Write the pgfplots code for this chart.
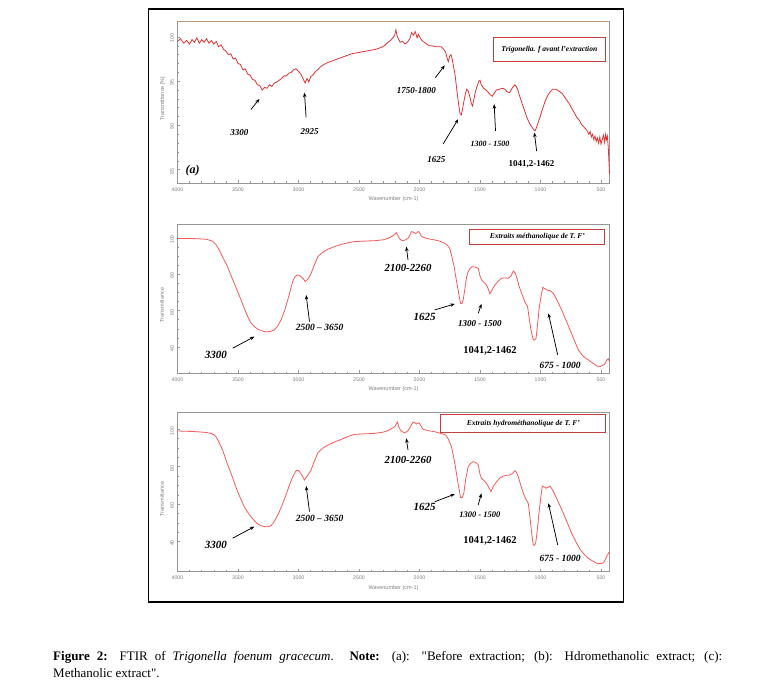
\documentclass[border=0pt]{standalone}
\usepackage{fontspec}
\setmainfont{Liberation Serif}[Ligatures=TeXOff]
\setsansfont{Liberation Sans}
\usepackage{pgfplots}
\pgfplotsset{compat=1.18}
\usetikzlibrary{arrows.meta}

\definecolor{curvea}{RGB}{226,50,50}
\definecolor{curveb}{RGB}{250,88,88}
\definecolor{axgray}{RGB}{150,150,150}
\definecolor{boxred}{RGB}{196,62,62}
\definecolor{topbrown}{RGB}{190,150,120}

\pgfplotsset{
  ftir/.style={
    scale only axis, width=432pt, anchor=south west,
    xmin=430, xmax=4000, x dir=reverse,
    xtick={500,1000,...,4000}, minor x tick num=4,
    tick pos=left, tick align=inside,
    major tick length=3pt, minor tick length=1.6pt,
    axis line style={axgray, line width=0.6pt},
    every tick/.style={axgray, line width=0.5pt},
    /pgf/number format/1000 sep={},
    /pgf/number format/assume math mode=true,
    ticklabel style={font=\sffamily\fontsize{5.2}{6}\selectfont, text=gray},
    yticklabel style={rotate=90, anchor=south, xshift=-1.5pt},
    xticklabel style={yshift=-1pt},
    xlabel={Wavenumber (cm-1)},
    xlabel style={font=\sffamily\fontsize{5.5}{6.5}\selectfont, text=gray,
      at={(axis description cs:0.5,0)}, anchor=north, yshift=-10pt},
    ylabel style={font=\sffamily\fontsize{5.5}{6.5}\selectfont, text=gray},
    clip=false,
  },
}
\tikzset{
  ann/.style={font=\bfseries\itshape\fontsize{#1}{#1}\selectfont, inner sep=0pt},
  ann/.default=9,
  annup/.style={font=\bfseries\fontsize{#1}{#1}\selectfont, inner sep=0pt},
  annup/.default=10.5,
  arr/.style={-{Stealth[length=4.5pt,width=3.5pt]}, line width=0.75pt},
  lbl/.style={draw=boxred, line width=0.8pt, fill=white, inner sep=0pt,
    font=\bfseries\itshape\fontsize{7.5}{8}\selectfont},
}

\pgfplotstableread{
x y
4000 99.5
3975 99.8
3950 99.3
3925 99.6
3900 99.2
3880 99.7
3860 99.4
3840 99.9
3820 99.3
3800 99.7
3780 99.4
3760 99.8
3740 99.3
3720 99.6
3700 99.2
3680 99.5
3660 98.9
3640 99.1
3620 98.6
3600 98.4
3580 98.0
3560 98.1
3540 97.5
3520 97.6
3500 97.0
3480 96.9
3460 96.3
3440 96.4
3420 95.8
3400 95.7
3380 95.2
3360 95.1
3340 94.6
3320 94.5
3300 94.0
3280 94.3
3260 94.2
3240 94.6
3220 94.4
3200 94.8
3180 94.9
3160 95.1
3140 95.3
3120 95.6
3100 95.6
3080 95.9
3060 96.0
3040 96.3
3020 96.4
3000 96.1
2980 95.8
2960 95.2
2945 94.8
2930 95.3
2915 94.9
2900 95.5
2880 95.7
2860 96.1
2840 96.3
2820 96.6
2800 96.8
2760 97.1
2720 97.3
2680 97.5
2640 97.7
2600 97.9
2560 98.1
2520 98.2
2480 98.3
2440 98.4
2400 98.5
2360 98.6
2320 98.8
2290 99.0
2260 99.4
2240 99.6
2220 99.9
2205 100.2
2195 100.8
2185 100.1
2175 99.8
2160 99.4
2140 99.5
2120 99.2
2100 99.4
2080 99.8
2065 100.5
2050 100.2
2035 100.6
2020 99.9
2010 100.3
1995 99.9
1980 99.6
1960 99.4
1940 99.2
1920 99.0
1900 99.0
1860 98.9
1820 98.9
1800 98.6
1785 98.3
1770 97.5
1762 97.2
1752 97.8
1740 98.0
1730 97.5
1718 96.6
1705 95.6
1690 93.8
1678 92.5
1665 91.3
1655 91.2
1645 91.8
1635 92.6
1620 93.6
1610 94.1
1598 93.9
1585 93.3
1572 92.5
1562 92.2
1550 93.0
1538 93.8
1525 94.4
1510 95.0
1500 95.1
1490 94.6
1470 94.2
1450 94.0
1430 93.7
1410 93.4
1398 93.3
1385 93.6
1365 94.0
1340 94.1
1315 94.2
1295 94.1
1275 93.8
1255 93.7
1240 94.1
1225 94.4
1212 94.6
1200 94.4
1185 93.9
1170 93.2
1150 92.4
1130 91.6
1110 90.8
1090 90.2
1070 89.8
1055 89.5
1045 89.4
1035 89.7
1020 90.3
1005 90.9
990 91.6
975 92.2
960 92.8
940 93.4
920 93.8
900 94.1
880 94.1
860 94.0
840 93.8
820 93.6
800 93.2
780 92.8
760 92.4
740 91.9
720 91.4
700 90.9
680 90.6
660 90.1
640 89.8
620 89.5
600 89.0
590 89.3
580 88.7
570 89.0
560 88.4
550 88.8
540 88.2
530 88.6
520 88.0
510 88.7
500 87.9
490 88.4
480 88.9
470 88.1
462 89.0
455 88.4
448 88.8
440 87.5
435 86.0
430 84.5
}\before

\pgfplotstableread{
x y
4000 99.8
3900 99.7
3834 99.6
3760 99.3
3710 98.2
3680 96.2
3655 93.4
3620 88.6
3586 84.2
3560 79.7
3531 75.1
3500 70.0
3475 65.9
3448 61.3
3420 56.7
3393 53.3
3365 51.2
3337 49.8
3310 49.0
3282 48.5
3255 48.3
3227 48.7
3199 49.4
3172 51.5
3144 54.9
3115 60.0
3089 65.9
3068 71.0
3048 76.0
3030 78.6
3012 79.6
2995 79.4
2978 78.7
2960 77.5
2945 76.0
2925 77.2
2910 78.6
2896 80.5
2870 85.0
2840 89.7
2800 92.2
2758 93.8
2700 95.3
2647 96.5
2590 97.4
2537 98.0
2450 98.3
2371 98.5
2300 99.0
2261 99.8
2225 101.0
2205 102.1
2192 102.9
2180 101.5
2165 99.6
2150 98.8
2136 98.5
2115 99.0
2095 99.8
2080 101.5
2067 103.5
2050 103.2
2035 102.5
2026 102.6
2015 103.4
2007 103.5
1995 102.4
1985 101.2
1971 100.4
1930 99.6
1874 98.9
1830 98.2
1791 97.1
1770 96.0
1750 94.3
1732 89.5
1714 84.2
1700 78.5
1686 73.2
1673 68.2
1661 64.0
1650 63.8
1639 65.9
1625 72.0
1612 78.0
1603 80.5
1585 83.0
1565 84.2
1540 84.0
1515 83.3
1500 79.0
1487 76.9
1466 75.5
1446 74.1
1430 71.5
1418 69.2
1400 71.5
1377 74.1
1350 76.2
1322 77.8
1295 78.0
1267 77.8
1245 79.0
1225 81.8
1210 80.8
1198 78.7
1180 74.0
1156 69.5
1130 65.0
1107 62.2
1095 56.5
1079 49.4
1068 46.0
1060 43.9
1048 43.9
1037 44.8
1025 52.0
1013 60.4
997 67.5
982 72.8
965 72.2
949 71.4
920 71.0
894 69.5
860 65.2
825 60.4
790 54.8
756 49.4
720 43.5
687 38.3
650 35.0
604 32.8
570 31.2
535 29.5
505 29.2
480 30.1
465 31.0
452 32.8
440 33.5
430 31.9
}\methanol

\pgfplotstableread{
x y
4000 99.1
3900 98.9
3834 98.7
3760 98.3
3724 97.8
3700 97.2
3682 96.1
3655 92.8
3627 88.9
3590 82.0
3558 76.5
3530 71.5
3503 66.7
3475 62.5
3448 58.6
3420 55.7
3393 53.3
3365 51.2
3337 49.4
3310 48.5
3282 48.0
3255 47.9
3232 48.3
3210 49.8
3185 52.4
3158 56.0
3130 60.4
3100 65.5
3075 70.2
3048 74.5
3020 77.9
3005 78.0
2992 77.4
2972 75.5
2951 72.9
2930 74.8
2910 76.8
2896 78.3
2870 82.8
2840 87.5
2800 89.9
2758 91.6
2700 93.3
2647 94.6
2590 96.2
2537 97.3
2450 97.6
2371 97.8
2300 98.5
2261 99.3
2230 100.4
2205 101.4
2190 103.0
2183 103.9
2172 101.5
2156 99.3
2140 98.6
2122 98.2
2100 99.0
2081 100.5
2066 102.5
2053 103.9
2040 103.6
2026 102.8
2015 103.2
2004 103.5
1990 102.0
1971 100.0
1930 99.3
1874 98.7
1830 97.9
1783 97.0
1760 94.5
1736 90.7
1722 86.5
1708 81.8
1695 76.5
1681 71.1
1670 67.0
1661 63.6
1648 63.5
1634 65.8
1618 73.5
1598 80.0
1578 81.8
1557 82.7
1535 82.3
1515 81.0
1500 76.0
1487 73.8
1466 72.5
1446 71.1
1428 69.0
1410 66.7
1390 69.5
1363 72.0
1335 74.0
1308 75.0
1280 75.4
1253 75.6
1230 76.5
1211 77.9
1198 76.8
1184 74.7
1165 70.5
1142 65.8
1120 62.5
1101 60.4
1090 54.5
1079 48.0
1068 42.0
1060 38.2
1050 38.0
1040 39.1
1027 46.0
1013 55.1
998 63.5
985 69.7
970 69.2
955 68.5
938 69.0
921 69.7
900 67.5
880 64.9
845 60.0
811 55.1
775 49.5
742 44.4
705 39.5
673 35.9
640 33.2
604 31.0
570 29.6
535 28.4
505 28.2
480 28.7
465 30.2
452 32.3
440 33.6
430 34.6
}\hydro

\begin{document}
\begin{tikzpicture}
\path[use as bounding box] (0pt,0pt) rectangle (776pt,688pt);
\draw[line width=1.8pt] (148.5pt,679pt) rectangle (623.5pt,86pt);

% (a) before extraction
\begin{axis}[ftir, at={(177.5pt,505pt)}, height=162pt,
  ymin=83.5, ymax=101.8, ytick={85,90,95,100}, minor y tick num=4,
  ylabel={Transmittance [\%]},
  ylabel style={at={(axis description cs:-0.034,0.52)}, anchor=center}]
\addplot[curvea, line width=0.8pt] table[x=x,y=y] {\before};
\draw[topbrown, line width=0.8pt] (rel axis cs:0,1) -- (rel axis cs:1,1);
\node[lbl, minimum width=112pt, minimum height=24pt] at (axis cs:927,98.6) {Trigonella. f avant l’extraction};
\node[font=\bfseries\itshape\fontsize{12}{12}\selectfont] at (axis cs:3876,84.9) {(a)};
\node[ann] at (axis cs:3489,89.2) {3300};
\draw[arr] (axis cs:3393,91.8) -- (axis cs:3323,93.0);
\node[ann] at (axis cs:2909,89.3) {2925};
\draw[arr] (axis cs:2937,90.9) -- (axis cs:2951,93.7);
\node[ann] at (axis cs:2026,93.9) {1750-1800};
\draw[arr] (axis cs:1869,95.4) -- (axis cs:1791,96.8);
\node[ann] at (axis cs:1860,86.2) {1625};
\draw[arr] (axis cs:1805,87.9) -- (axis cs:1681,90.7);
\node[ann=8] at (axis cs:1418,87.9) {1300 - 1500};
\draw[arr] (axis cs:1372,89.4) -- (axis cs:1383,92.4);
\node[annup=9] at (axis cs:1074,85.6) {1041,2-1462};
\draw[arr] (axis cs:1032,87.1) -- (axis cs:1051,89.2);
\end{axis}

% (b) methanolic extract
\begin{axis}[ftir, at={(177.5pt,314.7pt)}, height=149.3pt,
  ymin=25.5, ymax=107.7, ytick={40,60,80,100}, minor y tick num=3,
  ylabel={Transmittance},
  ylabel style={at={(axis description cs:-0.036,0.457)}, anchor=center}]
\addplot[curveb, line width=0.8pt] table[x=x,y=y] {\methanol};
\node[lbl, minimum width=135pt, minimum height=15pt] at (axis cs:1026,100.5) {Extraits méthanolique de T. F’};
\node[ann=11] at (axis cs:3683,35.6) {3300};
\draw[arr] (axis cs:3544,39.3) -- (axis cs:3365,45.7);
\node[ann=9.5] at (axis cs:2826,50.9) {2500 – 3650};
\draw[arr] (axis cs:2909,53.9) -- (axis cs:2937,68.6);
\node[ann=10.8] at (axis cs:2095,83.3) {2100-2260};
\draw[arr] (axis cs:2095,87.9) -- (axis cs:2109,95.2);
\node[ann=11] at (axis cs:1957,56.7) {1625};
\draw[arr] (axis cs:1874,60.4) -- (axis cs:1708,63.7);
\node[ann] at (axis cs:1501,53.0) {1300 - 1500};
\draw[arr] (axis cs:1515,58.5) -- (axis cs:1488,63.7);
\node[annup] at (axis cs:1418,38.0) {1041,2-1462};
\node[ann=9.5] at (axis cs:838,29.7) {675 - 1000};
\draw[arr] (axis cs:858,35.6) -- (axis cs:935,58.5);
\end{axis}

% (c) hydromethanolic extract
\begin{axis}[ftir, at={(177.5pt,116.3pt)}, height=159.4pt,
  ymin=23.9, ymax=109.1, ytick={40,60,80,100}, minor y tick num=3,
  ylabel={Transmittance},
  ylabel style={at={(axis description cs:-0.036,0.456)}, anchor=center}]
\addplot[curveb, line width=0.8pt] table[x=x,y=y] {\hydro};
\node[lbl, minimum width=165pt, minimum height=18pt] at (axis cs:1142,103.2) {Extraits hydrométhanolique de T. F’};
\node[ann=11] at (axis cs:3683,38.2) {3300};
\draw[arr] (axis cs:3544,41.8) -- (axis cs:3365,48.0);
\node[ann=9.5] at (axis cs:2826,52.5) {2500 – 3650};
\draw[arr] (axis cs:2909,56.0) -- (axis cs:2937,69.7);
\node[ann=10.8] at (axis cs:2095,83.6) {2100-2260};
\draw[arr] (axis cs:2095,88.9) -- (axis cs:2109,95.2);
\node[ann=11] at (axis cs:1957,58.3) {1625};
\draw[arr] (axis cs:1874,61.3) -- (axis cs:1708,65.4);
\node[ann=8.5] at (axis cs:1501,54.6) {1300 - 1500};
\draw[arr] (axis cs:1515,59.6) -- (axis cs:1488,65.8);
\node[annup] at (axis cs:1418,40.5) {1041,2-1462};
\node[ann=9.5] at (axis cs:838,31.1) {675 - 1000};
\draw[arr] (axis cs:858,38.2) -- (axis cs:935,60.5);
\end{axis}

\node[anchor=north west, inner sep=0pt, text width=669pt, align=justify,
  font=\fontsize{13}{17.5}\selectfont] at (53pt,37pt)
  {\textbf{Figure 2:} FTIR of \textit{Trigonella foenum gracecum}. \textbf{Note:} (a): "Before extraction; (b): Hdromethanolic extract; (c):\linebreak Methanolic extract".};
\end{tikzpicture}
\end{document}
